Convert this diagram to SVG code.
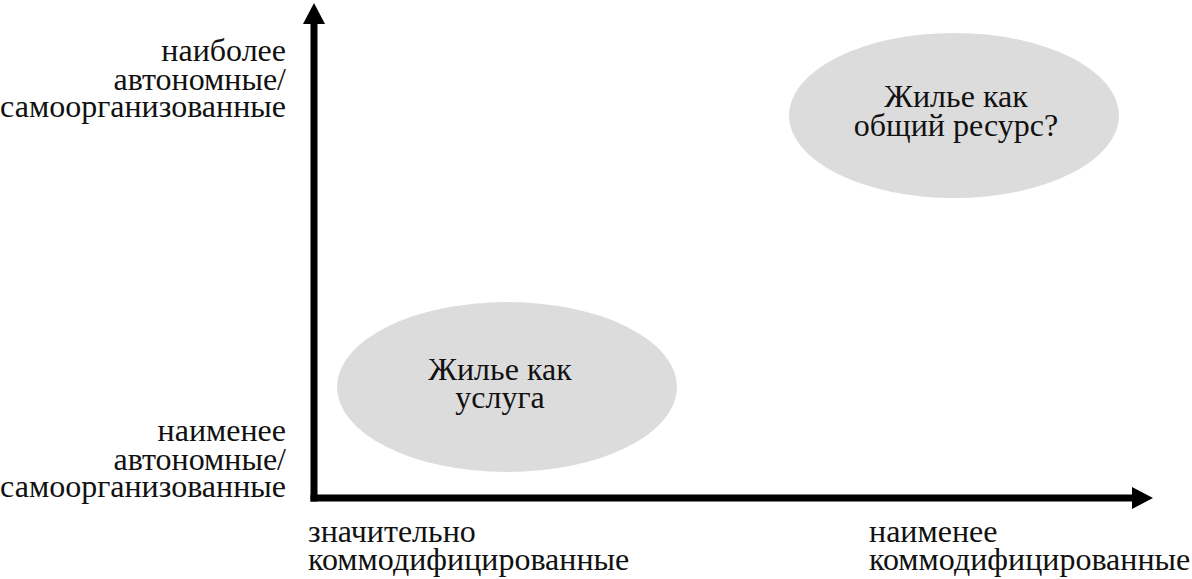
<svg xmlns="http://www.w3.org/2000/svg" width="1192" height="579" viewBox="0 0 1192 579">
<defs>
<marker id="ah" markerUnits="userSpaceOnUse" markerWidth="22" markerHeight="22" refX="0" refY="11" orient="auto" viewBox="0 0 22 22">
<path d="M0,0 L21,11 L0,22 Z" fill="#000"/>
</marker>
<style>
.lbl{font-family:"Liberation Serif","DejaVu Serif",serif;font-size:32px;fill:#111;}
.r{text-anchor:end;}
.m{text-anchor:middle;}
.blob{fill:#dcdcdc;}
.axis{stroke:#000;stroke-width:7;fill:none;}
</style>
</defs>
<rect width="1192" height="579" fill="#fff"/>
<g id="connectors">
<path class="axis" d="M314,501.5 L314,24" marker-end="url(#ah)"/>
<path class="axis" d="M310.5,498 L1132,498" marker-end="url(#ah)"/>
</g>
<g id="node-commons">
<ellipse class="blob" cx="954" cy="115.5" rx="165" ry="82.5"/>
<text class="lbl m" x="956" y="107">Жилье как</text>
<text class="lbl m" x="956" y="136">общий ресурс?</text>
</g>
<g id="node-service">
<ellipse class="blob" cx="507" cy="387" rx="170" ry="85"/>
<text class="lbl m" x="500" y="380">Жилье как</text>
<text class="lbl m" x="500" y="408">услуга</text>
</g>
<g id="label-y-top">
<text class="lbl r" x="286" y="61">наиболее</text>
<text class="lbl r" x="286" y="90">автономные/</text>
<text class="lbl r" x="286" y="117">самоорганизованные</text>
</g>
<g id="label-y-bottom">
<text class="lbl r" x="286" y="441">наименее</text>
<text class="lbl r" x="286" y="470">автономные/</text>
<text class="lbl r" x="286" y="497">самоорганизованные</text>
</g>
<g id="label-x-left">
<text class="lbl" x="308" y="542">значительно</text>
<text class="lbl" x="308" y="570">коммодифицированные</text>
</g>
<g id="label-x-right">
<text class="lbl" x="869" y="542">наименее</text>
<text class="lbl" x="869" y="570">коммодифицированные</text>
</g>
</svg>
